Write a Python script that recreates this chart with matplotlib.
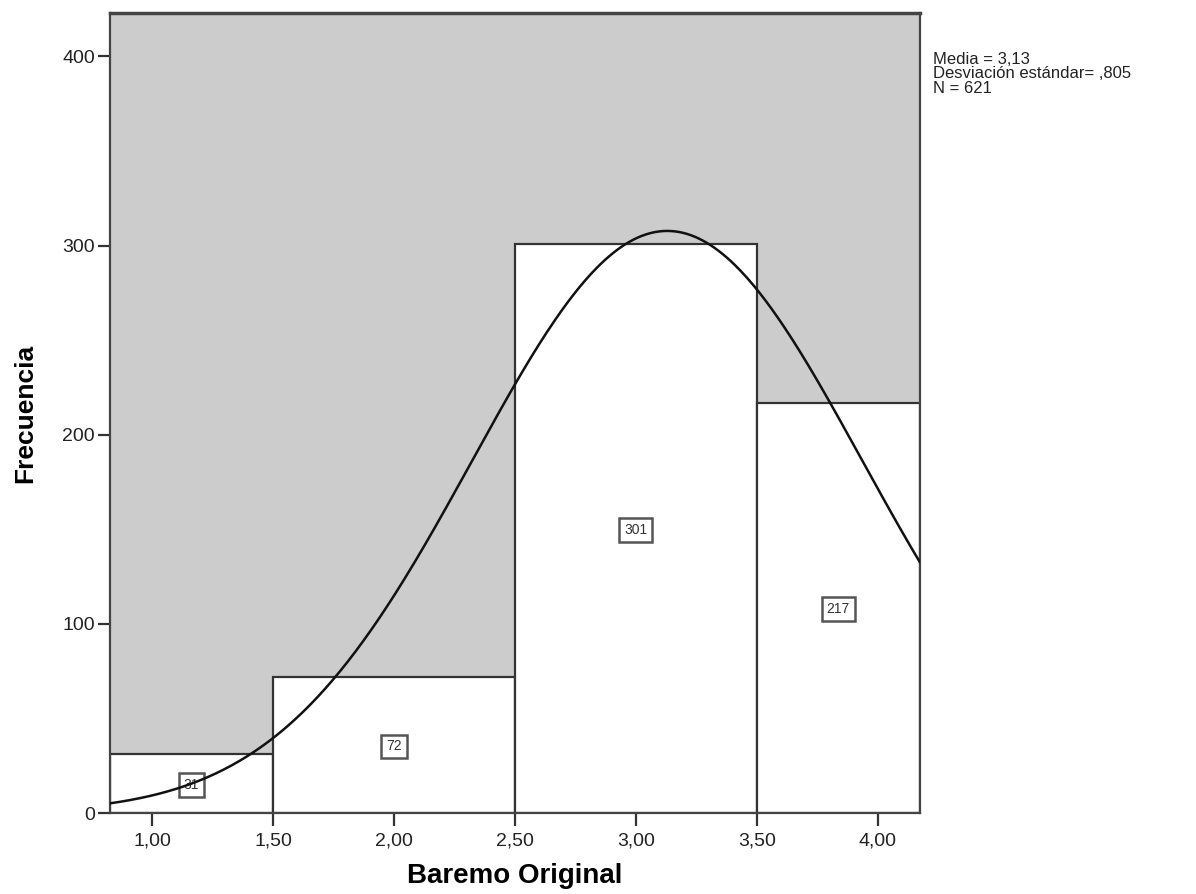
import matplotlib.pyplot as plt
import numpy as np
from matplotlib.ticker import FuncFormatter

plt.rcParams["font.family"] = ["Liberation Sans", "DejaVu Sans"]

# Histogram of "Baremo Original"
bin_edges = [0.826, 1.5, 2.5, 3.5, 4.174]
counts = [31, 72, 301, 217]
mean_val = 3.13
std_val = 0.805
n_total = 621
bin_width = 1.0

x_min, x_max = 0.826, 4.174
y_max = 423

fig = plt.figure(figsize=(11.96, 8.94), dpi=100)
ax = fig.add_axes([0.092, 0.0906, 0.677, 0.8949])
ax.set_facecolor("#cccccc")

lefts = np.array(bin_edges[:-1])
widths = np.diff(bin_edges)
ax.bar(lefts, counts, width=widths, align="edge", color="white",
       edgecolor="#333333", linewidth=1.6, zorder=2)

# fitted normal curve
xs = np.linspace(x_min, x_max, 400)
pdf = np.exp(-0.5 * ((xs - mean_val) / std_val) ** 2) / (std_val * np.sqrt(2 * np.pi))
ax.plot(xs, pdf * n_total * bin_width, color="#111111", linewidth=1.8, zorder=4)

# count labels in the middle of each bar
for left, w, c in zip(lefts, widths, counts):
    ax.text(left + w / 2, c / 2, str(c), ha="center", va="center_baseline",
            fontsize=10, color="#333333", zorder=3,
            bbox=dict(boxstyle="square,pad=0.35", facecolor="white",
                      edgecolor="#555555", linewidth=1.8))

ax.set_xlim(x_min, x_max)
ax.set_ylim(0, y_max)
ax.set_xticks([1.0, 1.5, 2.0, 2.5, 3.0, 3.5, 4.0])
ax.set_yticks([0, 100, 200, 300, 400])
ax.xaxis.set_major_formatter(FuncFormatter(lambda v, p: f"{v:.2f}".replace(".", ",")))
ax.tick_params(axis="both", direction="out", length=9, width=1.6, color="#333333",
               labelsize=14, labelcolor="#222222", pad=2)
ax.tick_params(axis="x", pad=5)
for s in ax.spines.values():
    s.set_color("#444444")
    s.set_linewidth(1.6)
ax.spines["top"].set_linewidth(2.5)

ax.set_xlabel("Baremo Original", fontsize=20, fontweight="bold", labelpad=10)
ax.set_ylabel("Frecuencia", fontsize=19, fontweight="bold", labelpad=18)

fig.text(0.780, 0.942, "Media = 3,13\nDesviación estándar= ,805\nN = 621",
         fontsize=12, color="#222222", va="top", ha="left", linespacing=0.95)

fig.savefig("out.png", dpi=100)
